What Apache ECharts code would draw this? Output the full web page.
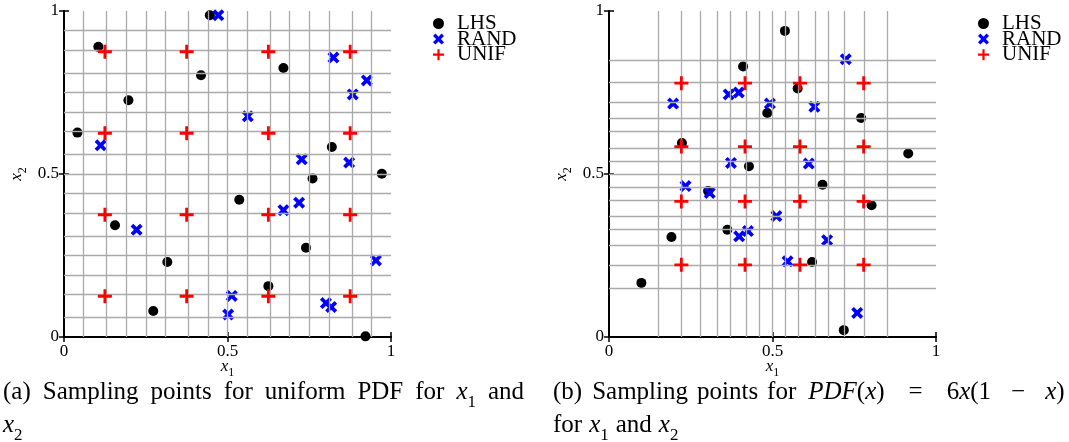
<!DOCTYPE html>
<html>
<head>
<meta charset="utf-8">
<script src="https://cdn.jsdelivr.net/npm/echarts@6/dist/echarts.min.js"></script>
<style>
  html, body { margin: 0; padding: 0; background: #fff; }
  #chart { width: 1069px; height: 442px; }
</style>
</head>
<body>
<div id="chart"></div>
<script>
// ---- data -------------------------------------------------------------
// (a) uniform PDF
const lhsA = [
  [0.446, 0.987], [0.105, 0.890], [0.419, 0.803], [0.671, 0.825],
  [0.197, 0.726], [0.041, 0.627], [0.819, 0.583], [0.760, 0.486],
  [0.972, 0.501], [0.536, 0.421], [0.156, 0.343], [0.740, 0.274],
  [0.316, 0.230], [0.625, 0.156], [0.273, 0.080], [0.922, 0.002]
];
const randA = [
  [0.472, 0.987], [0.824, 0.857], [0.926, 0.787], [0.883, 0.744],
  [0.562, 0.677], [0.112, 0.588], [0.727, 0.545], [0.872, 0.535],
  [0.719, 0.412], [0.671, 0.389], [0.222, 0.329], [0.954, 0.235],
  [0.513, 0.126], [0.502, 0.069], [0.801, 0.104], [0.817, 0.092]
];
const unifA = [
  [0.125, 0.125], [0.375, 0.125], [0.625, 0.125], [0.875, 0.125],
  [0.125, 0.375], [0.375, 0.375], [0.625, 0.375], [0.875, 0.375],
  [0.125, 0.625], [0.375, 0.625], [0.625, 0.625], [0.875, 0.625],
  [0.125, 0.875], [0.375, 0.875], [0.625, 0.875], [0.875, 0.875]
];
// LHS strata boundaries, uniform PDF
const strataA = [0.0625, 0.125, 0.1875, 0.25, 0.3125, 0.375, 0.4375, 0.5,
                 0.5625, 0.625, 0.6875, 0.75, 0.8125, 0.875, 0.9375];

// (b) PDF(x) = 6x(1-x)
const lhsB = [
  [0.538, 0.939], [0.410, 0.830], [0.577, 0.762], [0.484, 0.687],
  [0.771, 0.672], [0.223, 0.595], [0.915, 0.563], [0.428, 0.524],
  [0.653, 0.467], [0.303, 0.448], [0.803, 0.404], [0.362, 0.329],
  [0.191, 0.307], [0.621, 0.230], [0.099, 0.166], [0.718, 0.021]
];
const randB = [
  [0.724, 0.852], [0.366, 0.744], [0.397, 0.750], [0.196, 0.716],
  [0.492, 0.716], [0.628, 0.706], [0.373, 0.534], [0.611, 0.532],
  [0.234, 0.463], [0.308, 0.442], [0.512, 0.371], [0.425, 0.325],
  [0.398, 0.309], [0.667, 0.297], [0.546, 0.232], [0.759, 0.074]
];
const unifB = [
  [0.2213, 0.2213], [0.4159, 0.2213], [0.5841, 0.2213], [0.7787, 0.2213],
  [0.2213, 0.4159], [0.4159, 0.4159], [0.5841, 0.4159], [0.7787, 0.4159],
  [0.2213, 0.5841], [0.4159, 0.5841], [0.5841, 0.5841], [0.7787, 0.5841],
  [0.2213, 0.7787], [0.4159, 0.7787], [0.5841, 0.7787], [0.7787, 0.7787]
];
// LHS strata boundaries (equal-probability quantiles), PDF 6x(1-x)
const strataB = [0.1523, 0.2213, 0.2769, 0.3264, 0.3724, 0.4159, 0.4582, 0.5,
                 0.5418, 0.5841, 0.6276, 0.6736, 0.7231, 0.7787, 0.8477];

const seriesNames = ['LHS', 'RAND', 'UNIF'];
const axisTicks = [0, 0.5, 1];

// ---- styling ----------------------------------------------------------
const SERIF = '"Liberation Serif", "DejaVu Serif", serif';
const CROSS = 'path://M0,2.2L2.2,0L5,2.8L7.8,0L10,2.2L7.2,5L10,7.8L7.8,10L5,7.2L2.2,10L0,7.8L2.8,5Z';
const PLUS = 'path://M4,0H6V4H10V6H6V10H4V6H0V4H4Z';

const subRich = {
  i: { fontFamily: SERIF, fontStyle: 'italic', fontSize: 17, lineHeight: 20, verticalAlign: 'top', color: '#000' },
  s: { fontFamily: SERIF, fontSize: 12, lineHeight: 12, verticalAlign: 'top', padding: [9, 0, 0, 0], color: '#000' }
};

const grids = [
  { left: 64, top: 11, width: 327, height: 326 },
  { left: 609, top: 11, width: 327, height: 326 }
];

function frameAxes(g) {
  const common = {
    type: 'value', gridIndex: g, min: 0, max: 1, interval: 0.5,
    splitLine: { show: false },
    axisLine: { show: true, lineStyle: { color: '#000', width: 2 } },
    axisTick: { show: true, inside: true, length: 5, lineStyle: { color: '#000', width: 1.5 } }
  };
  const label = {
    show: true, fontFamily: SERIF, fontSize: 17, color: '#000',
    formatter: v => axisTicks.indexOf(v) >= 0 ? String(v) : ''
  };
  return {
    x: [
      Object.assign({}, common, {
        position: 'bottom', axisLabel: Object.assign({}, label, { margin: 6 }),
        name: '{i|x}{s|1}', nameLocation: 'middle', nameGap: 21, nameMoveOverlap: false,
        nameTextStyle: { rich: subRich }
      }),
      Object.assign({}, common, { position: 'top', axisLabel: { show: false } })
    ],
    y: [
      Object.assign({}, common, {
        position: 'left', axisLabel: Object.assign({}, label, { margin: 5 }),
        name: '{i|x}{s|2}', nameLocation: 'middle', nameGap: 36, nameRotate: 90,
        nameTextStyle: { rich: subRich }
      }),
      Object.assign({}, common, { position: 'right', axisLabel: { show: false } })
    ]
  };
}

const axA = frameAxes(0), axB = frameAxes(1);
const xAxis = [...axA.x, ...axB.x];
const yAxis = [...axA.y, ...axB.y];

function strataSeries(xi, yi, strata) {
  return {
    type: 'scatter', xAxisIndex: xi, yAxisIndex: yi, data: [], silent: true, z: 1,
    markLine: {
      silent: true, symbol: ['none', 'none'], animation: false, label: { show: false },
      lineStyle: { type: 'solid', color: '#aaaaaa', width: 1.3 },
      emphasis: { disabled: true },
      data: strata.map(v => ({ xAxis: v })).concat(strata.map(v => ({ yAxis: v })))
    }
  };
}

function pointSeries(xi, yi, lhs, rand, unif) {
  return [
    { name: 'LHS', type: 'scatter', xAxisIndex: xi, yAxisIndex: yi, data: lhs, z: 3,
      symbol: 'circle', symbolSize: 10, itemStyle: { color: '#000', opacity: 1 } },
    { name: 'RAND', type: 'scatter', xAxisIndex: xi, yAxisIndex: yi, data: rand, z: 4,
      symbol: CROSS, symbolSize: 12, itemStyle: { color: '#0000ff', opacity: 1 } },
    { name: 'UNIF', type: 'scatter', xAxisIndex: xi, yAxisIndex: yi, data: unif, z: 5,
      symbol: PLUS, symbolSize: 14, itemStyle: { color: '#ff0000', opacity: 1 } }
  ];
}

function legendAt(left) {
  return {
    orient: 'vertical', left: left, top: 8, itemGap: -5.4, itemWidth: 11, itemHeight: 11,
    selectedMode: false,
    formatter: name => '{p| }{t|' + name + '}',
    textStyle: {
      color: '#000', fontFamily: SERIF, fontSize: 21, lineHeight: 16,
      rich: {
        p: { width: 8, fontSize: 10, lineHeight: 16 },
        t: { fontFamily: SERIF, fontSize: 21, lineHeight: 16, color: '#000' }
      }
    },
    data: [
      { name: seriesNames[0], icon: 'circle', itemStyle: { opacity: 1 } },
      { name: seriesNames[1], icon: CROSS, itemStyle: { opacity: 1 } },
      { name: seriesNames[2], icon: PLUS, itemStyle: { opacity: 1 } }
    ]
  };
}

// caption text: 'm' roman, 'i' italic, 's' subscript, 'gN' fixed-width gap of N px
const capMain = { fontFamily: SERIF, fontWeight: 'normal', fontSize: 25, lineHeight: 28, verticalAlign: 'top', color: '#000' };
const capIt = Object.assign({}, capMain, { fontStyle: 'italic' });
const capSub = { fontFamily: SERIF, fontWeight: 'normal', fontSize: 17, lineHeight: 17, verticalAlign: 'top', padding: [14, 0, 0, 0], color: '#000' };
const capRich = { m: capMain, i: capIt, s: capSub };
for (let n = 1; n <= 30; n++) {
  capRich['g' + n] = { width: n, fontSize: 10, lineHeight: 28, verticalAlign: 'top' };
}
const gap = n => '{g' + n + '| }';
const capText = { fontWeight: 'normal', rich: capRich };

const capA1 = ['{m|(a)}', '{m|Sampling}', '{m|points}', '{m|for}', '{m|uniform}', '{m|PDF}', '{m|for}',
               '{i|x}{s|1}', '{m|and}'].join(gap(12));
const capA2 = '{i|x}{s|2}';
const capB1 = ['{m|(b)}', gap(10), '{m|Sampling}', gap(9), '{m|points}', gap(9), '{m|for}', gap(12),
               '{i|PDF}{m|(}{i|x}{m|)}', gap(24), '{m|=}', gap(24), '{m|6}{i|x}{m|(1}', gap(20),
               '{m|−}', gap(20), '{i|x}{m|)}'].join('');
const capB2 = ['{m|for}', '{i|x}{s|1}', '{m|and}', '{i|x}{s|2}'].join(gap(7));

const option = {
  animation: false,
  backgroundColor: '#fff',
  grid: grids,
  xAxis: xAxis,
  yAxis: yAxis,
  legend: [legendAt(428), legendAt(973)],
  title: [
    { left: 3, top: 380, padding: 0, textStyle: capText, text: capA1 },
    { left: 3, top: 413, padding: 0, textStyle: capText, text: capA2 },
    { left: 553, top: 380, padding: 0, textStyle: capText, text: capB1 },
    { left: 553, top: 413, padding: 0, textStyle: capText, text: capB2 }
  ],
  series: [
    strataSeries(0, 0, strataA),
    strataSeries(2, 2, strataB),
    ...pointSeries(0, 0, lhsA, randA, unifA),
    ...pointSeries(2, 2, lhsB, randB, unifB)
  ]
};

const chart = echarts.init(document.getElementById('chart'), null, { renderer: 'canvas' });
chart.setOption(option);
</script>
</body>
</html>
